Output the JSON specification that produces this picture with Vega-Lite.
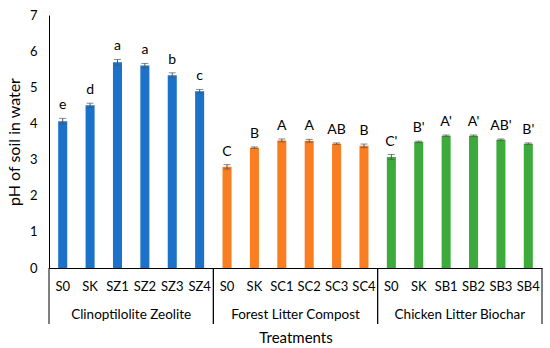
{
  "$schema": "https://vega.github.io/schema/vega-lite/v6.json",
  "width": 493,
  "height": 253,
  "autosize": {"type": "none"},
  "padding": {"left": 49, "top": 15, "right": 8, "bottom": 80},
  "background": "white",
  "config": {
    "font": "Lato",
    "view": {"stroke": null},
    "axis": {"grid": false, "domainColor": "black", "labelColor": "black", "titleColor": "black", "titleFontWeight": "normal", "ticks": false, "labelFontSize": 13, "labelPadding": 12, "titleFontSize": 15},
    "axisY": {"titlePadding": 7, "titleFontSize": 16}
  },
  "datasets": {
    "bars": [
      {"id": "Z-S0", "group": "Clinoptilolite Zeolite", "ph": 4.06, "sd": 0.08, "letter": "e"},
      {"id": "Z-SK", "group": "Clinoptilolite Zeolite", "ph": 4.5, "sd": 0.06, "letter": "d"},
      {"id": "Z-SZ1", "group": "Clinoptilolite Zeolite", "ph": 5.69, "sd": 0.08, "letter": "a"},
      {"id": "Z-SZ2", "group": "Clinoptilolite Zeolite", "ph": 5.6, "sd": 0.06, "letter": "a"},
      {"id": "Z-SZ3", "group": "Clinoptilolite Zeolite", "ph": 5.33, "sd": 0.07, "letter": "b"},
      {"id": "Z-SZ4", "group": "Clinoptilolite Zeolite", "ph": 4.89, "sd": 0.05, "letter": "c"},
      {"id": "C-S0", "group": "Forest Litter Compost", "ph": 2.8, "sd": 0.06, "letter": "C"},
      {"id": "C-SK", "group": "Forest Litter Compost", "ph": 3.33, "sd": 0.02, "letter": "B"},
      {"id": "C-SC1", "group": "Forest Litter Compost", "ph": 3.53, "sd": 0.04, "letter": "A"},
      {"id": "C-SC2", "group": "Forest Litter Compost", "ph": 3.52, "sd": 0.04, "letter": "A"},
      {"id": "C-SC3", "group": "Forest Litter Compost", "ph": 3.44, "sd": 0.02, "letter": "AB"},
      {"id": "C-SC4", "group": "Forest Litter Compost", "ph": 3.38, "sd": 0.05, "letter": "B"},
      {"id": "B-S0", "group": "Chicken Litter Biochar", "ph": 3.07, "sd": 0.07, "letter": "C'"},
      {"id": "B-SK", "group": "Chicken Litter Biochar", "ph": 3.49, "sd": 0.02, "letter": "B'"},
      {"id": "B-SB1", "group": "Chicken Litter Biochar", "ph": 3.66, "sd": 0.02, "letter": "A'"},
      {"id": "B-SB2", "group": "Chicken Litter Biochar", "ph": 3.66, "sd": 0.02, "letter": "A'"},
      {"id": "B-SB3", "group": "Chicken Litter Biochar", "ph": 3.55, "sd": 0.02, "letter": "AB'"},
      {"id": "B-SB4", "group": "Chicken Litter Biochar", "ph": 3.44, "sd": 0.02, "letter": "B'"}
    ],
    "groups": [
      {"mid": "Z-SZ1", "name": "Clinoptilolite Zeolite", "start": "Z-S0", "end": "Z-SZ4", "ypos": -1.3, "top": 0, "bottom": -1.55},
      {"mid": "C-SC1", "name": "Forest Litter Compost", "start": "C-S0", "end": "C-SC4", "ypos": -1.3, "top": 0, "bottom": -1.55},
      {"mid": "B-SB1", "name": "Chicken Litter Biochar", "start": "B-S0", "end": "B-SB4", "ypos": -1.3, "top": 0, "bottom": -1.55}
    ]
  },
  "layer": [
    {
      "data": {"name": "bars"},
      "mark": {"type": "bar", "width": {"band": 0.33}},
      "encoding": {
        "x": {
          "field": "id", "type": "nominal", "sort": null,
          "scale": {"paddingInner": 0, "paddingOuter": 0},
          "axis": {"labelExpr": "split(datum.value, '-')[1]", "labelAngle": 0, "title": "Treatments", "titlePadding": 37, "domainWidth": 1}
        },
        "y": {
          "field": "ph", "type": "quantitative",
          "scale": {"domain": [0, 7], "nice": false},
          "axis": {"values": [0, 1, 2, 3, 4, 5, 6, 7], "title": "pH of soil in water"}
        },
        "color": {
          "field": "group", "type": "nominal", "legend": null,
          "scale": {"domain": ["Clinoptilolite Zeolite", "Forest Litter Compost", "Chicken Litter Biochar"], "range": ["#1b72c8", "#f97d21", "#3dab3b"]}
        }
      }
    },
    {
      "data": {"name": "bars"},
      "mark": {"type": "errorbar", "ticks": {"size": 7, "color": "#555555"}, "rule": {"color": "#555555"}},
      "encoding": {
        "x": {"field": "id", "type": "nominal", "sort": null},
        "y": {"field": "ph", "type": "quantitative", "axis": {"values": [0, 1, 2, 3, 4, 5, 6, 7], "title": "pH of soil in water"}},
        "yError": {"field": "sd"}
      }
    },
    {
      "data": {"name": "bars"},
      "transform": [{"calculate": "datum.ph + datum.sd", "as": "hi"}],
      "mark": {"type": "text", "baseline": "bottom", "dy": -6, "fontSize": 14, "color": "black"},
      "encoding": {
        "x": {"field": "id", "type": "nominal", "sort": null},
        "y": {"field": "hi", "type": "quantitative", "axis": {"values": [0, 1, 2, 3, 4, 5, 6, 7], "title": "pH of soil in water"}},
        "text": {"field": "letter"}
      }
    },
    {
      "data": {"name": "groups"},
      "mark": {"type": "text", "baseline": "middle", "fontSize": 13.5, "color": "black"},
      "encoding": {
        "x": {"field": "mid", "type": "nominal", "sort": null, "bandPosition": 1},
        "y": {"field": "ypos", "type": "quantitative", "axis": {"values": [0, 1, 2, 3, 4, 5, 6, 7], "title": "pH of soil in water"}},
        "text": {"field": "name"}
      }
    },
    {
      "data": {"name": "groups"},
      "mark": {"type": "rule", "color": "black", "strokeWidth": 1},
      "encoding": {
        "x": {"field": "start", "type": "nominal", "sort": null, "bandPosition": 0},
        "y": {"field": "top", "type": "quantitative", "axis": {"values": [0, 1, 2, 3, 4, 5, 6, 7], "title": "pH of soil in water"}},
        "y2": {"field": "bottom"}
      }
    },
    {
      "data": {"name": "groups"},
      "mark": {"type": "rule", "color": "black", "strokeWidth": 1},
      "encoding": {
        "x": {"field": "end", "type": "nominal", "sort": null, "bandPosition": 1},
        "y": {"field": "top", "type": "quantitative", "axis": {"values": [0, 1, 2, 3, 4, 5, 6, 7], "title": "pH of soil in water"}},
        "y2": {"field": "bottom"}
      }
    }
  ]
}
